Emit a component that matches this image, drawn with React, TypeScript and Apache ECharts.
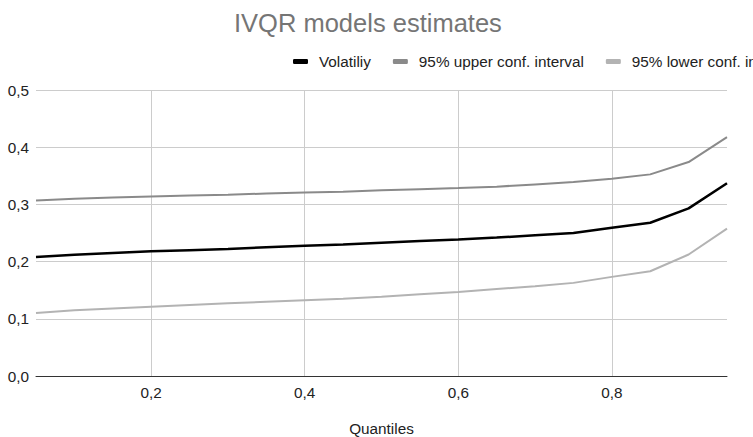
import React, { useEffect, useRef } from "react";
import * as echarts from "echarts";

const quantiles = [0.05, 0.1, 0.15, 0.2, 0.25, 0.3, 0.35, 0.4, 0.45, 0.5, 0.55, 0.6, 0.65, 0.7, 0.75, 0.8, 0.85, 0.9, 0.95];
const volatility = [0.208, 0.212, 0.215, 0.218, 0.22, 0.222, 0.225, 0.2275, 0.23, 0.233, 0.236, 0.2386, 0.242, 0.246, 0.25, 0.259, 0.268, 0.293, 0.337];
const upperCI = [0.307, 0.31, 0.312, 0.314, 0.3155, 0.317, 0.319, 0.3206, 0.322, 0.3246, 0.3266, 0.3286, 0.331, 0.335, 0.339, 0.345, 0.3525, 0.374, 0.4176];
const lowerCI = [0.11, 0.115, 0.118, 0.121, 0.124, 0.127, 0.1298, 0.1326, 0.135, 0.1384, 0.143, 0.147, 0.152, 0.157, 0.1628, 0.1733, 0.1832, 0.2124, 0.2577];
const seriesNames = ["Volatiliy", "95% upper conf. interval", "95% lower conf. interval"];
const seriesColors = ["#000000", "#8a8a8a", "#b3b3b3"];
const xTickLabels = [0.2, 0.4, 0.6, 0.8];

const FONT = "'Liberation Sans', Arial, sans-serif";

export default function App() {
  const ref = useRef<HTMLDivElement>(null);
  useEffect(() => {
    if (!ref.current) return;
    const chart = echarts.init(ref.current, null, { renderer: "svg" });
    const pairs = (vals: number[]) => quantiles.map((q, i) => [q, vals[i]]);
    const allSeries = [volatility, upperCI, lowerCI];
    chart.setOption({
      animation: false,
      backgroundColor: "#ffffff",
      title: {
        text: "IVQR models estimates",
        left: 229,
        top: 5,
        textStyle: { fontFamily: FONT, fontSize: 25.5, fontWeight: "normal", color: "#757575" },
      },
      legend: {
        left: 288,
        top: 49,
        width: 2000,
        icon: "roundRect",
        itemWidth: 15,
        itemHeight: 5,
        itemGap: 22,
        data: seriesNames,
        textStyle: { fontFamily: FONT, fontSize: 15.3, color: "#222222", padding: [0, 0, 0, 6] },
      },
      grid: { left: 36, right: 26, top: 90, bottom: 61, containLabel: false, outerBoundsMode: "none" },
      xAxis: {
        type: "value",
        min: 0.05,
        max: 0.95,
        splitNumber: 5,
        name: "Quantiles",
        nameLocation: "middle",
        nameGap: 45,
        nameTextStyle: { fontFamily: FONT, fontSize: 15.3, color: "#222222" },
        axisLine: { show: true, lineStyle: { color: "#333333", width: 1 } },
        axisTick: { show: false },
        axisLabel: {
          margin: 9,
          fontFamily: FONT,
          fontSize: 15.3,
          color: "#222222",
          showMinLabel: false,
          showMaxLabel: false,
          formatter: (v: number) => {
            const hit = xTickLabels.find((t) => Math.abs(t - v) < 1e-6);
            return hit !== undefined ? hit.toFixed(1).replace(".", ",") : "";
          },
        },
        splitLine: { show: true, showMinLine: false, showMaxLine: false, lineStyle: { color: "#cccccc", width: 1 } },
      },
      yAxis: {
        type: "value",
        min: 0,
        max: 0.5,
        interval: 0.1,
        axisLine: { show: false },
        axisTick: { show: false },
        axisLabel: {
          margin: 7,
          fontFamily: FONT,
          fontSize: 15.3,
          color: "#222222",
          formatter: (v: number) => v.toFixed(1).replace(".", ","),
        },
        splitLine: { show: true, lineStyle: { color: "#cccccc", width: 1 } },
      },
      series: allSeries.map((vals, i) => ({
        name: seriesNames[i],
        type: "line",
        data: pairs(vals),
        showSymbol: false,
        symbol: "none",
        color: seriesColors[i],
        lineStyle: { color: seriesColors[i], width: i === 0 ? 2.5 : 2 },
        z: 3 - i,
      })),
    });
    return () => chart.dispose();
  }, []);
  return (
    <div
      ref={ref}
      style={{ position: "absolute", left: 0, top: 0, width: 753, height: 437, overflow: "hidden" }}
    />
  );
}
